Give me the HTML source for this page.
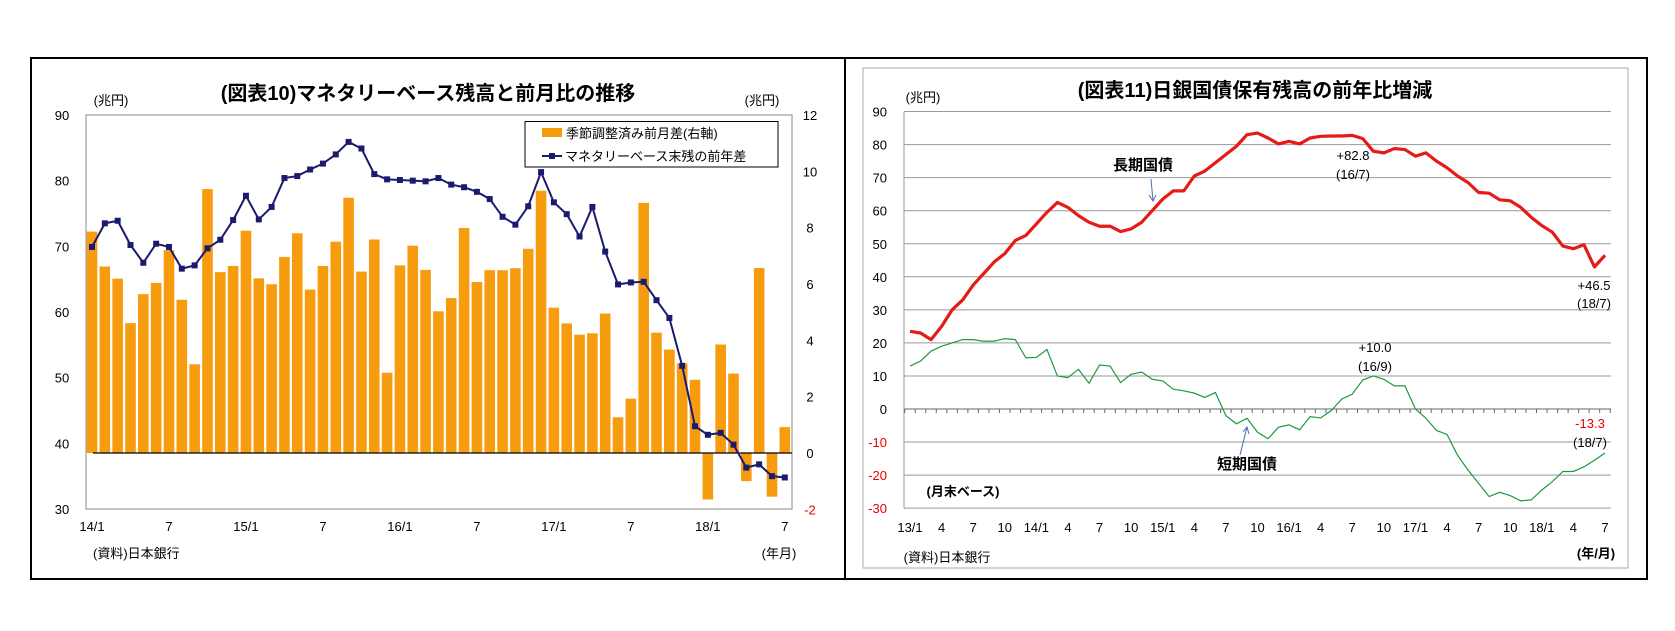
<!DOCTYPE html>
<html><head><meta charset="utf-8"><style>
html,body{margin:0;padding:0;background:#fff;}
svg{display:block;font-family:"Liberation Sans","Noto Sans CJK JP",sans-serif;}
</style></head><body>
<svg id="s" width="1675" height="631" viewBox="0 0 1675 631" xmlns="http://www.w3.org/2000/svg">
<rect x="31" y="58" width="1616" height="521" fill="none" stroke="#000" stroke-width="2"/>
<line x1="845" y1="58" x2="845" y2="579" stroke="#000" stroke-width="2"/>
<rect x="863" y="68" width="765" height="500" fill="none" stroke="#aaa" stroke-width="1"/>
<g id="g"></g>
</svg>
<script>
var g=document.getElementById('g'),h='';
function T(x,y,t,o){o=o||{};h+='<text x="'+x+'" y="'+y+'" font-size="'+(o.fs||13)+'" text-anchor="'+(o.a||'middle')+'" fill="'+(o.c||'#000')+'"'+(o.b?' font-weight="bold"':'')+'>'+t+'</text>';}
// ---- chart 1
var L=86,R=792,TOP=115,BOT=509;
h+='<rect x="'+L+'" y="'+TOP+'" width="'+(R-L)+'" height="'+(BOT-TOP)+'" fill="none" stroke="#888" stroke-width="1"/>';
var bars=[7.86,6.62,6.19,4.61,5.64,6.04,7.2,5.44,3.15,9.37,6.42,6.64,7.89,6.2,5.99,6.96,7.8,5.8,6.64,7.5,9.06,6.44,7.58,2.85,6.66,7.36,6.5,5.03,5.5,7.99,6.07,6.49,6.49,6.56,7.25,9.31,5.16,4.6,4.2,4.25,4.95,1.27,1.93,8.88,4.27,3.67,3.18,2.6,-1.65,3.85,2.82,-1.0,6.57,-1.55,0.92];
var line=[69.9,73.5,73.9,70.2,67.5,70.4,69.9,66.6,67.1,69.7,71.0,74.0,77.7,74.1,76.0,80.4,80.7,81.7,82.6,84.0,85.9,84.9,81.0,80.2,80.1,80.0,79.9,80.4,79.4,79.0,78.3,77.2,74.5,73.3,76.1,81.3,76.7,74.9,71.5,76.0,69.2,64.2,64.5,64.6,61.8,59.1,51.8,42.6,41.3,41.6,39.8,36.3,36.8,35.0,34.8];
function xm(i){return 92+i*12.83;}
function yr(v){return 453-v*28.17;}
function yl(v){return BOT-(v-30)*(BOT-TOP)/60;}
bars.forEach(function(v,i){var y0=yr(0),y1=yr(v);h+='<rect x="'+(xm(i)-5.3)+'" y="'+Math.min(y0,y1)+'" width="10.6" height="'+Math.abs(y1-y0)+'" fill="#f79c0f"/>';});
h+='<line x1="'+(L+7)+'" y1="453" x2="'+R+'" y2="453" stroke="#000" stroke-width="1.2"/>';
h+='<polyline fill="none" stroke="#1a1a6e" stroke-width="2" points="'+line.map(function(v,i){return xm(i)+','+yl(v)}).join(' ')+'"/>';
line.forEach(function(v,i){h+='<rect x="'+(xm(i)-3)+'" y="'+(yl(v)-3)+'" width="6" height="6" fill="#1a1a6e"/>';});
for(var v=30;v<=90;v+=10)T(62,yl(v)+5,v);
for(var v=-2;v<=12;v+=2)T(810,yr(v)+5,v,{c:v<0?'#e00':'#000'});
[['14/1',0],['7',6],['15/1',12],['7',18],['16/1',24],['7',30],['17/1',36],['7',42],['18/1',48],['7',54]].forEach(function(a){T(xm(a[1]),531,a[0]);});
T(111,105,'(兆円)');T(762,105,'(兆円)');
T(428,100,'(図表10)マネタリーベース残高と前月比の推移',{fs:20,b:1});
T(93,558,'(資料)日本銀行',{a:'start'});T(779,558,'(年月)');
h+='<rect x="525" y="121.5" width="253" height="45.5" fill="#fff" stroke="#000" stroke-width="1"/>';
h+='<rect x="542" y="128" width="20" height="9" fill="#f79c0f"/>';T(566,138,'季節調整済み前月差(右軸)',{a:'start'});
h+='<line x1="542" y1="156" x2="562" y2="156" stroke="#1a1a6e" stroke-width="2"/><rect x="549" y="153" width="6" height="6" fill="#1a1a6e"/>';T(565,161,'マネタリーベース末残の前年差',{a:'start'});
// ---- chart 2
var L2=904,R2=1611;
function y2(v){return 409-v*3.305;}
function x2(i){return 910+i*10.53;}
for(var v=-30;v<=90;v+=10){h+='<line x1="'+L2+'" y1="'+y2(v)+'" x2="'+R2+'" y2="'+y2(v)+'" stroke="'+(v==0?'#666':'#999')+'" stroke-width="1"/>';T(887,y2(v)+5,v,{a:'end',c:v<0?'#e00':'#000'});}
h+='<line x1="'+L2+'" y1="'+y2(90)+'" x2="'+L2+'" y2="'+y2(-30)+'" stroke="#999"/>';
for(var i=0;i<=67;i++)h+='<line x1="'+(x2(i)-5.3)+'" y1="409" x2="'+(x2(i)-5.3)+'" y2="413" stroke="#666"/>';
var lg=[23.5,23,21,25,30,33,37.5,41,44.5,47,51,52.5,56,59.5,62.5,61,58.5,56.5,55.3,55.3,53.7,54.5,56.5,60,63.5,66,66,70.5,72,74.5,77,79.5,83,83.5,82,80.2,81,80.2,82,82.5,82.6,82.6,82.8,81.8,78,77.5,78.8,78.5,76.5,77.5,75,73,70.5,68.5,65.5,65.3,63.3,63,61,58,55.5,53.5,49.3,48.5,49.7,43,46.5];
var sh=[13,14.5,17.5,19,20,21,21,20.5,20.5,21.3,21,15.5,15.6,18,10,9.5,12,7.8,13.3,13,8,10.5,11.2,9,8.5,6,5.5,4.8,3.5,5,-2,-4.5,-2.8,-7,-9,-5.5,-4.8,-6.3,-2.3,-2.7,-0.5,3,4.5,8.8,10,9,7,7,0,-2.8,-6.5,-7.7,-14,-18.5,-22.5,-26.5,-25.2,-26.2,-27.8,-27.5,-24.5,-22,-18.9,-18.9,-17.5,-15.5,-13.3];
h+='<polyline fill="none" stroke="#e41b17" stroke-width="3.2" stroke-linejoin="round" points="'+lg.map(function(v,i){return x2(i)+','+y2(v)}).join(' ')+'"/>';
h+='<polyline fill="none" stroke="#1f9a3e" stroke-width="1.2" points="'+sh.map(function(v,i){return x2(i)+','+y2(v)}).join(' ')+'"/>';
var lab=[['13/1',0],['4',3],['7',6],['10',9],['14/1',12],['4',15],['7',18],['10',21],['15/1',24],['4',27],['7',30],['10',33],['16/1',36],['4',39],['7',42],['10',45],['17/1',48],['4',51],['7',54],['10',57],['18/1',60],['4',63],['7',66]];
lab.forEach(function(a){T(x2(a[1]),532,a[0]);});
T(1255,97,'(図表11)日銀国債保有残高の前年比増減',{fs:20,b:1});
T(923,102,'(兆円)');T(947,562,'(資料)日本銀行');T(1596,558,'(年/月)',{b:1});
T(963,496,'(月末ベース)',{b:1});
T(1143,170,'長期国債',{fs:15,b:1});T(1247,469,'短期国債',{fs:15,b:1});
h+='<line x1="1151" y1="179" x2="1153" y2="201" stroke="#4a6fb5"/><path d="M1149,195 L1153,201 L1156,195" fill="none" stroke="#4a6fb5"/>';
h+='<line x1="1240" y1="455" x2="1247" y2="427" stroke="#4a6fb5"/><path d="M1243,432 L1247,427 L1249,434" fill="none" stroke="#4a6fb5"/>';
T(1353,160,'+82.8');T(1353,179,'(16/7)');
T(1375,352,'+10.0');T(1375,371,'(16/9)');
T(1594,290,'+46.5');T(1594,308,'(18/7)');
T(1590,428,'-13.3',{c:'#e00'});T(1590,447,'(18/7)');
g.innerHTML=h;
</script>
</body></html>
